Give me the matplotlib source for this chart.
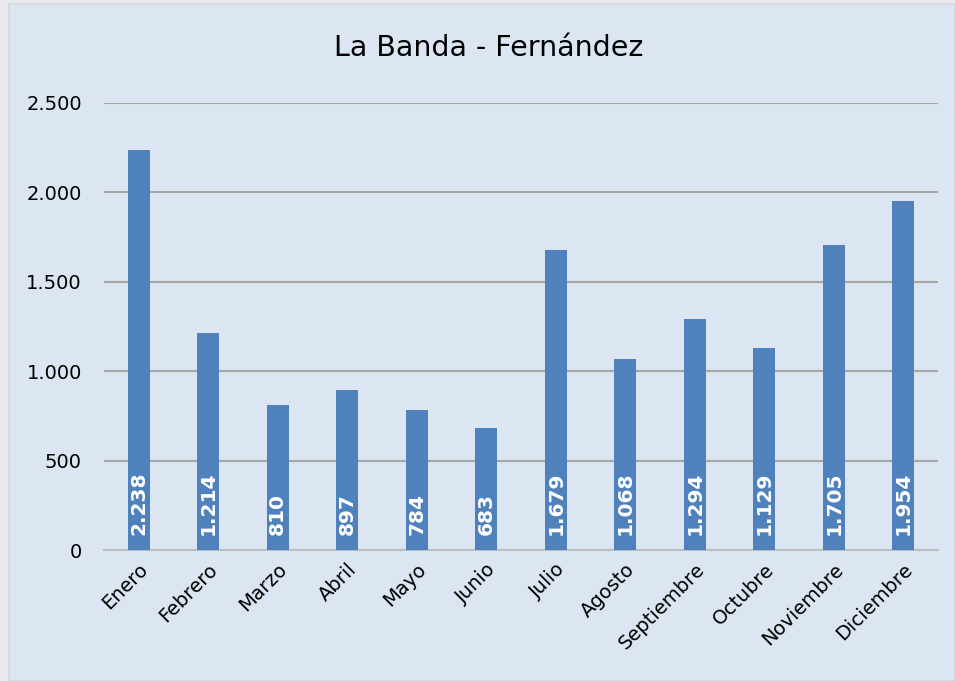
import matplotlib.pyplot as plt
from matplotlib.patches import Rectangle
from matplotlib.ticker import FuncFormatter

months = ["Enero", "Febrero", "Marzo", "Abril", "Mayo", "Junio", "Julio",
          "Agosto", "Septiembre", "Octubre", "Noviembre", "Diciembre"]
values = [2238, 1214, 810, 897, 784, 683, 1679, 1068, 1294, 1129, 1705, 1954]
yticks = [0, 500, 1000, 1500, 2000, 2500]


def miles(v):
    return f"{int(v):,}".replace(",", ".")


bg = "#DCE6F2"
fig = plt.figure(figsize=(9.55, 6.81), dpi=100, facecolor="#E9E9EE")
fig.patches.append(Rectangle((9 / 955, 0), 1 - 9 / 955, 1 - 4 / 681,
                             transform=fig.transFigure, facecolor=bg,
                             edgecolor="#D4D8DE", linewidth=1.2, zorder=-10))

ax = fig.add_axes([104 / 955, 131 / 681, 834 / 955, 447 / 681])
ax.set_facecolor(bg)
ax.patch.set_alpha(0)

x = range(len(months))
ax.bar(x, values, width=0.32, color="#4F81BD", zorder=3)
for i, v in zip(x, values):
    ax.text(i, 85, miles(v), rotation=90, ha="center", va="bottom",
            color="white", fontsize=14.5, fontweight="bold", zorder=4)

ax.set_xlim(-0.5, len(months) - 0.5)
ax.set_ylim(0, 2500)
ax.set_yticks(yticks)
ax.yaxis.set_major_formatter(FuncFormatter(lambda v, p: miles(v)))
ax.grid(axis="y", color="#A6A6A6", linewidth=1.5, zorder=1)
for s in ["top", "right", "left"]:
    ax.spines[s].set_visible(False)
ax.spines["bottom"].set_color("#BDBDBD")
ax.spines["bottom"].set_linewidth(1.5)
ax.tick_params(axis="y", length=0, pad=16, labelsize=14)
ax.tick_params(axis="x", length=0, pad=7, labelsize=14)
ax.set_xticks(list(x))
ax.set_xticklabels(months, rotation=45, ha="right", rotation_mode="anchor")

fig.text(0.512, 1 - 48 / 681, "La Banda - Fernández", ha="center",
         va="center", fontsize=20.5)

fig.savefig("out.png", dpi=100, facecolor=fig.get_facecolor())
